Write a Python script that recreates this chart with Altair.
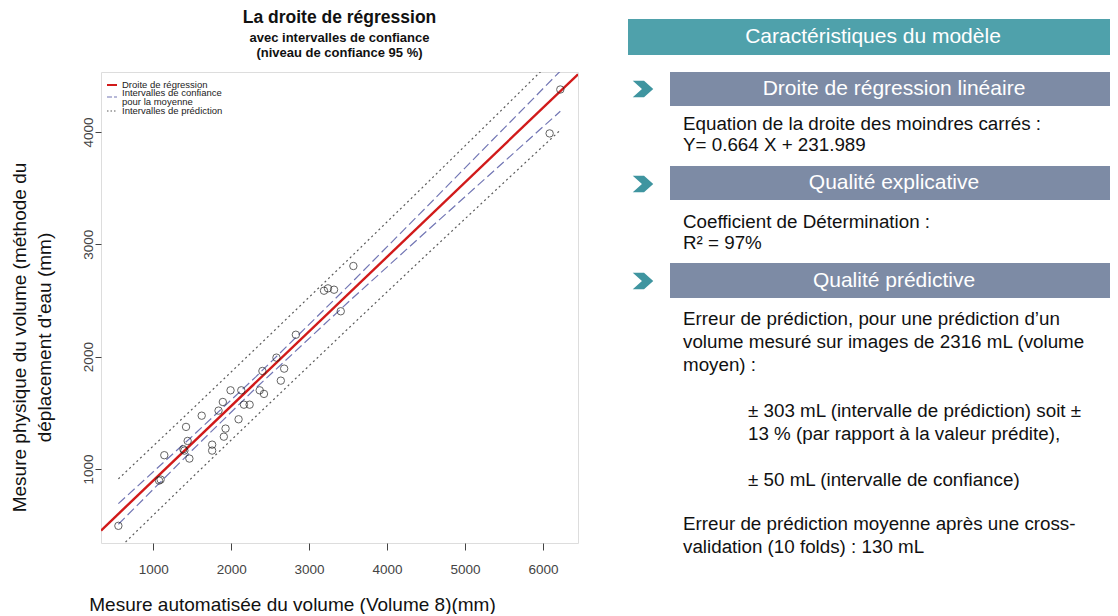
import altair as alt
import pandas as pd

FONT = "Liberation Sans"

# ---- data ----
x_auto = [553, 1075, 1095, 1142, 1387, 1400, 1442, 1421, 1464, 1622, 1756, 1756,
          1838, 1893, 1906, 1928, 1992, 2095, 2130, 2164, 2237, 2366, 2421, 2401,
          2581, 2637, 2680, 2830, 3191, 3242, 3320, 3406, 3568, 6223, 6086]
y_phys = [493, 896, 905, 1122, 1175, 1163, 1249, 1374, 1092, 1474, 1216, 1163,
          1519, 1596, 1287, 1359, 1700, 1442, 1700, 1572, 1572, 1700, 1668, 1872,
          1991, 1786, 1893, 2195, 2587, 2608, 2596, 2404, 2807, 4379, 3988]

reg_x = [330, 6450]
reg_y = [451, 4515]

band_x = [553, 1500, 2316, 3500, 4500, 5500, 6223]
ci_lo = [507, 1166, 1720, 2484, 3112, 3735, 4185]
ci_hi = [691, 1290, 1820, 2628, 3328, 4033, 4543]
pi_lo = [287, 924, 1467, 2249, 2903, 3551, 4017]
pi_hi = [911, 1532, 2073, 2863, 3537, 4217, 4711]

x_ticks = [1000, 2000, 3000, 4000, 5000, 6000]
y_ticks = [1000, 2000, 3000, 4000]
x_domain = [330, 6450]
y_domain = [340, 4535]

title_main = "La droite de régression"
title_sub = ["avec intervalles de confiance", "(niveau de confiance 95 %)"]
x_title = "Mesure automatisée du volume (Volume 8)(mm)"
y_title = ["Mesure physique du volume (méthode du", "déplacement d'eau (mm)"]

legend_labels = ["Droite de régression", "Intervalles de confiance",
                 "pour la moyenne", "Intervalles de prédiction"]

panel_header = "Caractéristiques du modèle"
section_titles = ["Droite de régression linéaire", "Qualité explicative", "Qualité prédictive"]
sec1_lines = ["Equation de la droite des moindres carrés :", "Y= 0.664 X + 231.989"]
sec2_lines = ["Coefficient de Détermination :", "R² = 97%"]
sec3_lines = ["Erreur de prédiction, pour une prédiction d’un",
              "volume mesuré sur images de 2316 mL (volume",
              "moyen) :"]
sec3_indent = ["± 303 mL (intervalle de prédiction) soit ±",
               "13 % (par rapport à la valeur prédite),",
               "± 50 mL (intervalle de confiance)"]
sec3_end = ["Erreur de prédiction moyenne après une cross-",
            "validation (10 folds) : 130 mL"]

# ---- colours ----
RED = "#d11a1a"
BLUE = "#7276b4"
GREY = "#5a5a5a"
TEAL = "#4fa1ab"
SLATE = "#7d8ba5"
CHEV = "#3f95a0"

# ---- scales / axes ----
xs = alt.Scale(domain=x_domain, nice=False, zero=False)
ys = alt.Scale(domain=y_domain, nice=False, zero=False)

x_axis = alt.Axis(values=x_ticks, format="d", tickSize=7, tickColor="#444",
                  labelFontSize=13.5, labelColor="#444", labelPadding=12, labelFont=FONT,
                  domain=False, grid=False, title=x_title, titleFont=FONT,
                  titleFontSize=19, titleFontWeight="normal", titleColor="#111",
                  titleX=191, titleY=61, titleAlign="center", titleBaseline="middle")
y_axis = alt.Axis(values=y_ticks, format="d", tickSize=6, tickColor="#444",
                  labelFontSize=13.5, labelColor="#444", labelAngle=-90,
                  labelAlign="center", labelBaseline="bottom", labelPadding=0,
                  labelFont=FONT, domain=False, grid=False, title=y_title,
                  titleFont=FONT, titleFontSize=19, titleFontWeight="normal",
                  titleColor="#111", titleAngle=-90, titleX=-91, titleY=265,
                  titleAlign="center", titleBaseline="top", titleLineHeight=25)

X = alt.X("x:Q", scale=xs, axis=x_axis)
Y = alt.Y("y:Q", scale=ys, axis=y_axis)

pts_df = pd.DataFrame({"x": x_auto, "y": y_phys})
reg_df = pd.DataFrame({"x": reg_x, "y": reg_y})
ci_df = pd.concat([pd.DataFrame({"x": band_x, "y": ci_lo, "s": "lo"}),
                   pd.DataFrame({"x": band_x, "y": ci_hi, "s": "hi"})])
pi_df = pd.concat([pd.DataFrame({"x": band_x, "y": pi_lo, "s": "lo"}),
                   pd.DataFrame({"x": band_x, "y": pi_hi, "s": "hi"})])

pi_layer = alt.Chart(pi_df).mark_line(color=GREY, strokeWidth=1.2, strokeDash=[2, 3],
                                      clip=True).encode(x=X, y=Y, detail="s:N")
ci_layer = alt.Chart(ci_df).mark_line(color=BLUE, strokeWidth=1.2, strokeDash=[9, 4],
                                      clip=True).encode(x=X, y=Y, detail="s:N")
reg_layer = alt.Chart(reg_df).mark_line(color=RED, strokeWidth=2.4, clip=True).encode(x=X, y=Y)
pts_layer = alt.Chart(pts_df).mark_point(shape="circle", size=55, color="#222",
                                         strokeWidth=1, filled=False).encode(x=X, y=Y)

one = pd.DataFrame({"k": [0]})


def txt(t, x, y, size=18.8, color="#111", align="left", weight="normal"):
    return alt.Chart(pd.DataFrame({"t": [t]})).mark_text(
        font=FONT, fontSize=size, color=color, align=align, baseline="middle",
        fontWeight=weight).encode(x=alt.value(x), y=alt.value(y), text="t:N")


def rect(x1, x2, y1, y2, color):
    return alt.Chart(one).mark_rect(color=color).encode(
        x=alt.value(x1), x2=alt.value(x2), y=alt.value(y1), y2=alt.value(y2))


def rule(x1, x2, y, color, width, dash=None):
    kw = dict(color=color, strokeWidth=width)
    if dash:
        kw["strokeDash"] = dash
    return alt.Chart(one).mark_rule(**kw).encode(
        x=alt.value(x1), x2=alt.value(x2), y=alt.value(y))


CHEV_PATH = "M-1,-0.8 L0.1,-0.8 L1,0 L0.1,0.8 L-1,0.8 L-0.1,0 Z"


def chevron(x, y):
    return alt.Chart(one).mark_point(shape=CHEV_PATH, filled=True, size=420,
                                     color=CHEV, opacity=1, strokeWidth=0).encode(
        x=alt.value(x), y=alt.value(y))


OX, OY = 101, 72

# chart title (drawn above the plot area)
titles = [
    txt(title_main, 339.5 - OX, 18 - OY, size=17.5, align="center", weight="bold"),
    txt(title_sub[0], 339.5 - OX, 38 - OY, size=13, align="center", weight="bold"),
    txt(title_sub[1], 339.5 - OX, 53 - OY, size=13, align="center", weight="bold"),
]

# legend (inside plot, top-left)
legend = [
    rule(6, 16, 13, RED, 2),
    rule(6, 16, 25, BLUE, 1.2, [5, 2]),
    rule(6, 16, 39, GREY, 1.2, [1.5, 2]),
    txt(legend_labels[0], 21, 13, size=9.5, color="#222"),
    txt(legend_labels[1], 21, 21, size=9.5, color="#222"),
    txt(legend_labels[2], 21, 30, size=9.5, color="#222"),
    txt(legend_labels[3], 21, 38.5, size=9.5, color="#222"),
]

# right-hand panel (pixel offsets from plot origin)
L1 = 683 - OX
L2 = 748 - OX
HS = 21
panel = [
    rect(628 - OX, 1118 - OX, 19 - OY, 55 - OY, TEAL),
    txt(panel_header, 873 - OX, 37 - OY, size=HS, color="white", align="center"),
    rect(670 - OX, 1118 - OX, 72 - OY, 106 - OY, SLATE),
    txt(section_titles[0], 894 - OX, 89 - OY, size=HS, color="white", align="center"),
    rect(670 - OX, 1118 - OX, 166 - OY, 200 - OY, SLATE),
    txt(section_titles[1], 894 - OX, 183 - OY, size=HS, color="white", align="center"),
    rect(670 - OX, 1118 - OX, 263 - OY, 298 - OY, SLATE),
    txt(section_titles[2], 894 - OX, 281 - OY, size=HS, color="white", align="center"),
    chevron(643 - OX, 89 - OY),
    chevron(643 - OX, 184 - OY),
    chevron(643 - OX, 281 - OY),
    txt(sec1_lines[0], L1, 124 - OY),
    txt(sec1_lines[1], L1, 145 - OY),
    txt(sec2_lines[0], L1, 222 - OY),
    txt(sec2_lines[1], L1, 243 - OY),
    txt(sec3_lines[0], L1, 319 - OY),
    txt(sec3_lines[1], L1, 342 - OY),
    txt(sec3_lines[2], L1, 365 - OY),
    txt(sec3_indent[0], L2, 411 - OY),
    txt(sec3_indent[1], L2, 434 - OY),
    txt(sec3_indent[2], L2, 480 - OY),
    txt(sec3_end[0], L1, 524 - OY),
    txt(sec3_end[1], L1, 547 - OY),
]

chart = alt.layer(pi_layer, ci_layer, reg_layer, pts_layer, *titles, *legend, *panel).properties(
    width=477, height=471,
    autosize=alt.AutoSizeParams(type="none"),
    padding={"left": 93, "top": 64, "right": 532, "bottom": 71},
).configure_view(stroke="#555", strokeWidth=1).configure(background="white")

chart.save("out.html", embed_options={"renderer": "svg", "actions": False})
